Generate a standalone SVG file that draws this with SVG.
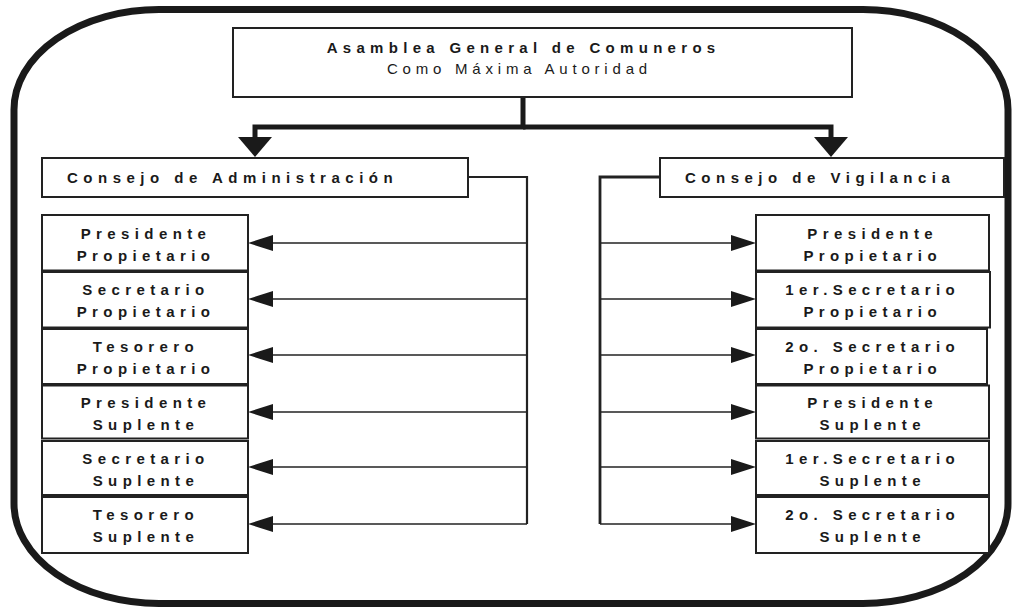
<svg xmlns="http://www.w3.org/2000/svg" width="1013" height="608" viewBox="0 0 1013 608">
<style>
.frame{fill:none;stroke:#1a1a1a;stroke-width:7}
.box{fill:#fff;stroke:#222;stroke-width:2}
.t{font-family:"Liberation Sans",Arial,sans-serif;font-size:15px;font-weight:bold;fill:#1a1a1a;letter-spacing:5.4px;text-anchor:middle}
.tn{font-weight:normal;letter-spacing:4.8px}
.tl{text-anchor:start;letter-spacing:5.5px}
.thick{fill:none;stroke:#1a1a1a;stroke-width:5}
.thin{fill:none;stroke:#222;stroke-width:1.7}
.brk{fill:none;stroke:#222;stroke-width:2.2}
</style>
<defs>
<marker id="big" markerUnits="userSpaceOnUse" markerWidth="20" markerHeight="34" refX="10" refY="17" orient="auto" overflow="visible">
<path d="M0,0 L20,17 L0,34 z" fill="#1a1a1a"/>
</marker>
<marker id="sm" markerUnits="userSpaceOnUse" markerWidth="25" markerHeight="16" refX="13" refY="8" orient="auto" overflow="visible">
<path d="M0,0 L25,8 L0,16 z" fill="#1a1a1a"/>
</marker>
</defs>
<rect class="frame" x="14" y="9.5" width="994" height="594" rx="145" ry="100"/>
<g id="connectors">
<path class="thick" d="M523,97 V127 H255 V147" marker-end="url(#big)"/>
<path class="thick" d="M523,127 H831 V147" marker-end="url(#big)"/>
<path class="brk" d="M468,177 H527 V524"/>
<path class="brk" d="M660,177 H600 V524" style="stroke-width:2.8"/>
<path class="thin" d="M527,243 H260" marker-end="url(#sm)"/>
<path class="thin" d="M527,299 H260" marker-end="url(#sm)"/>
<path class="thin" d="M527,355 H260" marker-end="url(#sm)"/>
<path class="thin" d="M527,412 H260" marker-end="url(#sm)"/>
<path class="thin" d="M527,467 H260" marker-end="url(#sm)"/>
<path class="thin" d="M527,524 H260" marker-end="url(#sm)"/>
<path class="thin" d="M600,243 H744" marker-end="url(#sm)"/>
<path class="thin" d="M600,299 H744" marker-end="url(#sm)"/>
<path class="thin" d="M600,355 H744" marker-end="url(#sm)"/>
<path class="thin" d="M600,412 H744" marker-end="url(#sm)"/>
<path class="thin" d="M600,467 H744" marker-end="url(#sm)"/>
<path class="thin" d="M600,524 H744" marker-end="url(#sm)"/>
</g>
<g id="asamblea">
<rect class="box" x="233" y="28" width="619" height="69"/>
<text class="t" x="523.6" y="53" style="letter-spacing:5.3px">Asamblea General de Comuneros</text>
<text class="t tn" x="519.4" y="74">Como Máxima Autoridad</text>
</g>
<g id="consejo-admin">
<rect class="box" x="42" y="158" width="426" height="39"/>
<text class="t tl" x="67" y="183">Consejo de Administración</text>
</g>
<g id="consejo-vig">
<rect class="box" x="660" y="158" width="344" height="39"/>
<text class="t tl" x="685" y="183">Consejo de Vigilancia</text>
</g>
<g id="a1"><rect class="box" x="42" y="215" width="206" height="55.5"/><text class="t" x="146" y="239">Presidente</text><text class="t" x="146" y="261">Propietario</text></g>
<g id="a2"><rect class="box" x="42" y="272" width="206" height="55.5"/><text class="t" x="146" y="295">Secretario</text><text class="t" x="146" y="317">Propietario</text></g>
<g id="a3"><rect class="box" x="42" y="329" width="206" height="55"/><text class="t" x="146" y="352">Tesorero</text><text class="t" x="146" y="374">Propietario</text></g>
<g id="a4"><rect class="box" x="42" y="385.5" width="206" height="53"/><text class="t" x="146" y="408">Presidente</text><text class="t" x="146" y="430">Suplente</text></g>
<g id="a5"><rect class="box" x="42" y="441" width="206" height="54"/><text class="t" x="146" y="464">Secretario</text><text class="t" x="146" y="486">Suplente</text></g>
<g id="a6"><rect class="box" x="42" y="497" width="206" height="56"/><text class="t" x="146" y="520">Tesorero</text><text class="t" x="146" y="542">Suplente</text></g>
<g id="v1"><rect class="box" x="756" y="215" width="233" height="55.5"/><text class="t" x="872.7" y="239">Presidente</text><text class="t" x="872.7" y="261">Propietario</text></g>
<g id="v2"><rect class="box" x="756" y="272" width="234" height="55.5"/><text class="t" x="872.7" y="295">1er.Secretario</text><text class="t" x="872.7" y="317">Propietario</text></g>
<g id="v3"><rect class="box" x="756" y="329" width="231" height="55"/><text class="t" x="872.7" y="352">2o. Secretario</text><text class="t" x="872.7" y="374">Propietario</text></g>
<g id="v4"><rect class="box" x="756" y="385.5" width="233" height="53"/><text class="t" x="872.7" y="408">Presidente</text><text class="t" x="872.7" y="430">Suplente</text></g>
<g id="v5"><rect class="box" x="756" y="441" width="233" height="54"/><text class="t" x="872.7" y="464">1er.Secretario</text><text class="t" x="872.7" y="486">Suplente</text></g>
<g id="v6"><rect class="box" x="756" y="497" width="233" height="56"/><text class="t" x="872.7" y="520">2o. Secretario</text><text class="t" x="872.7" y="542">Suplente</text></g>
</svg>
